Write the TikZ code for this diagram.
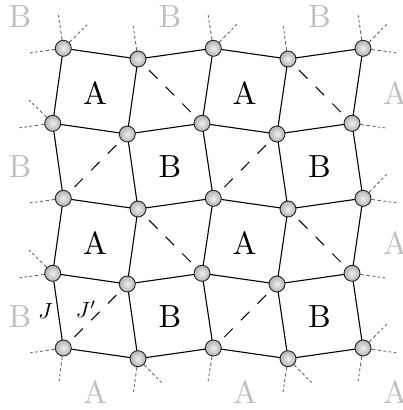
\documentclass[tikz,border=0pt]{standalone}
\tikzset{
  site/.style={circle,draw=black!85,line width=0.9pt,minimum size=16pt,inner sep=0pt,inner color=black!6,outer color=black!30},
  bond/.style={draw=black,line width=1.1pt},
  diag/.style={draw=black,line width=1pt,dash pattern=on 12pt off 11.6pt,shorten <=15.6pt,shorten >=15.6pt},
  stub/.style={draw=black!60,line width=0.9pt,dash pattern=on 12pt off 2.5pt on 3.5pt off 2.5pt on 3pt off 2.5pt on 2.5pt off 2.5pt on 2.5pt off 9pt},
  lab/.style={scale=3.2,text=black,inner sep=0pt},
  ghost/.style={scale=3.2,text=black!25,inner sep=0pt},
  coup/.style={scale=2.2,text=black,inner sep=0pt}
}
\begin{document}
\begin{tikzpicture}[x=1pt,y=-1pt]
\useasboundingbox (0,0) rectangle (402,410);
% lattice sites
\foreach \n/\x/\y in {
  n00/63.3/48.3, n01/138/59, n02/213.3/48.3, n03/288/59, n04/363/48.3,
  n10/52.7/123.3, n11/127.3/134, n12/202/123.3, n13/277/134, n14/352/123.3,
  n20/63.3/198.3, n21/138/209, n22/213.3/198.3, n23/288/209, n24/363/198.3,
  n30/52.7/273.3, n31/127.3/284, n32/202/273.3, n33/277/284, n34/352/273.3,
  n40/63.3/348, n41/138/358.7, n42/213.3/348, n43/288/358.7, n44/363/348}
  {\coordinate (c\n) at (\x,\y);}
% stub ends
\foreach \s/\a/\x/\y in {
  a/n00/58.3/14, b/n00/91/20.7, c/n00/29/53, d/n01/133/25, e/n02/208/14, f/n02/240/21,
  g/n03/283/25, h/n04/358/14, i/n04/390/21, j/n04/398/53,
  k/n10/25/96, l/n10/18/128, m/n14/386/128,
  o/n20/29/203, p/n24/390/171, q/n24/398/203,
  r/n30/25/246, s/n30/18/278, t/n34/386/278,
  u/n40/29/353, v/n40/59/382, w/n41/133.5/392, x/n41/166/387, y/n42/208/382,
  z/n43/283/392, aa/n43/316/387, ab/n44/358/382, ac/n44/390/321, ad/n44/398/353}
  {\coordinate (s\s) at (\x,\y); \draw[stub] (c\a) -- (s\s);}
% bonds
\foreach \p/\q in {
  n00/n01,n01/n02,n02/n03,n03/n04,
  n10/n11,n11/n12,n12/n13,n13/n14,
  n20/n21,n21/n22,n22/n23,n23/n24,
  n30/n31,n31/n32,n32/n33,n33/n34,
  n40/n41,n41/n42,n42/n43,n43/n44,
  n00/n10,n10/n20,n20/n30,n30/n40,
  n01/n11,n11/n21,n21/n31,n31/n41,
  n02/n12,n12/n22,n22/n32,n32/n42,
  n03/n13,n13/n23,n23/n33,n33/n43,
  n04/n14,n14/n24,n24/n34,n34/n44}
  {\draw[bond] (c\p) -- (c\q);}
% diagonal couplings
\foreach \p/\q in {
  n01/n12,n11/n20,n03/n14,n13/n22,
  n21/n32,n31/n40,n23/n34,n33/n42}
  {\draw[diag] (c\p) -- (c\q);}
% site markers
\foreach \n in {n00,n01,n02,n03,n04,n10,n11,n12,n13,n14,n20,n21,n22,n23,n24,n30,n31,n32,n33,n34,n40,n41,n42,n43,n44}
  {\node[site] (\n) at (c\n) {};}
% plaquette labels
\node[lab] (pa) at (95,93) {A};
\node[lab] (pb) at (244.5,93) {A};
\node[lab] (pc) at (170,167) {B};
\node[lab] (pd) at (319.5,167) {B};
\node[lab] (pe) at (95,243) {A};
\node[lab] (pf) at (244.5,243) {A};
\node[lab] (pg) at (170,316.5) {B};
\node[lab] (ph) at (319.5,316.5) {B};
% ghost labels
\node[ghost] (ga) at (20,17) {B};
\node[ghost] (gb) at (170,17) {B};
\node[ghost] (gc) at (319.5,17) {B};
\node[ghost] (gd) at (20,167) {B};
\node[ghost] (ge) at (20,316.5) {B};
\node[ghost] (gf) at (395,93) {A};
\node[ghost] (gg) at (395,243) {A};
\node[ghost] (gh) at (95,392) {A};
\node[ghost] (gi) at (245,392) {A};
\node[ghost] (gj) at (395,392) {A};
% couplings
\node[coup] (jone) at (45.5,311) {$J$};
\node[coup] (jtwo) at (86,309.5) {$J'$};
\end{tikzpicture}
\end{document}
